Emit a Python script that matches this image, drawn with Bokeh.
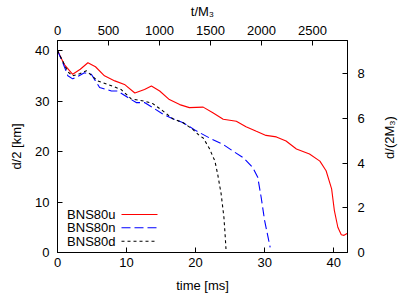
import math
from bokeh.plotting import figure
from bokeh.models import Range1d, LinearAxis, FixedTicker, Label, Arrow
from bokeh.embed import file_html
from bokeh.resources import INLINE

# ---- data ----
t_u = [0, 1.0, 2.2, 3.3, 4.4, 5.5, 6.8, 8.3, 9.7, 11.2, 12.6, 13.6, 14.8, 16.2, 17.7,
       19.1, 21.1, 22.5, 24.0, 25.9, 27.3, 28.8, 30.2, 31.7, 33.1, 34.6, 36.5, 38.0,
       38.9, 39.7, 40.1, 40.6, 41.1, 41.5, 42.0]
d_u = [40, 37.2, 35.3, 36.3, 37.6, 36.8, 35.0, 34.0, 33.3, 31.6, 32.3, 33.0, 32.0, 30.3, 29.3,
       28.7, 28.8, 27.7, 26.4, 26.0, 24.9, 24.0, 23.2, 22.9, 22.1, 20.5, 19.5, 18.1,
       16.2, 12.6, 8.3, 5.0, 3.5, 3.4, 3.8]

t_n = [0, 0.8, 1.5, 2.2, 3.0, 3.9, 4.9, 6.1, 7.8, 8.7, 10.2, 11.4, 12.6, 13.8, 15.3,
       16.7, 18.2, 20.1, 22.0, 24.0, 25.4, 26.9, 28.3, 29.0, 29.5, 30.0, 30.5, 30.8]
d_n = [40, 37.5, 35.0, 34.4, 34.9, 35.6, 35.3, 32.7, 32.0, 32.0, 30.7, 29.7, 29.7, 28.7, 27.4,
       26.5, 25.7, 24.1, 22.7, 21.4, 20.1, 18.8, 16.8, 14.9, 10.9, 6.3, 3.0, 1.0]

t_d = [0, 0.8, 1.5, 2.2, 3.2, 4.2, 5.8, 7.3, 9.2, 10.7, 12.6, 13.8, 15.3, 16.7, 18.2,
       19.6, 20.6, 21.1, 22.0, 22.8, 23.2, 23.7, 24.1, 24.3, 24.4]
d_d = [40, 37.8, 35.8, 35.0, 35.4, 36.0, 34.0, 33.3, 32.3, 30.4, 30.0, 29.5, 28.0, 26.5, 25.7,
       24.4, 23.1, 22.7, 20.6, 18.1, 15.5, 11.6, 7.0, 3.0, 0.7]

labels = ["BNS80u", "BNS80n", "BNS80d"]
colors = ["#ff0000", "#0000ff", "#000000"]
dashes = ["solid", "9 4", "3 3"]

bottom_ticks = [0, 10, 20, 30, 40]
left_ticks = [0, 10, 20, 30, 40]
top_ticks = [0, 500, 1000, 1500, 2000, 2500]
right_ticks = [0, 2, 4, 6, 8]

x_title = "time [ms]"
y_title = "d/2 [km]"
x2_title = "t/M\u2083"
y2_title = "d/(2M\u2083)"

T_MAX = 42.0
D_MAX = 42.0
MS_TO_M3 = 67.68   # 1 ms in units of M3 (3 Msun)
KM_PER_M3 = 4.43   # M3 in km

FONT = "Liberation Sans"
FS = "13px"

p = figure(width=415, height=295, output_backend="svg", toolbar_location=None,
           x_range=Range1d(0, T_MAX), y_range=Range1d(0, D_MAX),
           min_border_left=57, min_border_right=68, min_border_top=40, min_border_bottom=43)
p.extra_x_ranges = {"top": Range1d(0, T_MAX * MS_TO_M3)}
p.extra_y_ranges = {"right": Range1d(0, D_MAX / KM_PER_M3)}
p.add_layout(LinearAxis(x_range_name="top", axis_label=x2_title), "above")
p.add_layout(LinearAxis(y_range_name="right"), "right")

p.xgrid.visible = False
p.ygrid.visible = False
p.outline_line_color = "black"
p.outline_line_width = 1
p.background_fill_color = "white"
p.border_fill_color = "white"

p.below[0].axis_label = x_title
p.left[0].axis_label = y_title

for ax in p.axis:
    ax.major_tick_in = 5
    ax.major_tick_out = 0
    ax.minor_tick_line_color = None
    ax.axis_line_color = "black"
    ax.major_tick_line_color = "black"
    ax.major_label_text_font = FONT
    ax.major_label_text_font_size = FS
    ax.major_label_text_color = "black"
    ax.axis_label_text_font = FONT
    ax.axis_label_text_font_size = FS
    ax.axis_label_text_font_style = "normal"
    ax.axis_label_text_color = "black"

bx = p.below[0]
bx.ticker = FixedTicker(ticks=bottom_ticks)
bx.major_label_standoff = 5
bx.axis_label_standoff = 8
ly = p.left[0]
ly.ticker = FixedTicker(ticks=left_ticks)
ly.major_label_standoff = 8
ly.axis_label_standoff = 8
tx = p.above[0]
tx.ticker = FixedTicker(ticks=top_ticks)
tx.major_label_standoff = 6
tx.axis_label_standoff = 4
ry = p.right[0]
ry.ticker = FixedTicker(ticks=right_ticks)
ry.major_label_standoff = 10

series = [(t_u, d_u), (t_n, d_n), (t_d, d_d)]
for (tt, dd), c, dsh in zip(series, colors, dashes):
    p.line(tt, dd, line_color=c, line_width=1.1, line_dash=dsh)

# right axis title reading bottom-to-top (as in the reference), placed in the right side panel
p.add_layout(Label(x=22, y=115, x_units="screen", y_units="screen", text=y2_title,
                   angle=90, angle_units="deg", text_align="center", text_baseline="middle",
                   text_font=FONT, text_font_size=FS, text_color="black"), "right")

# manual legend (gnuplot style: text then sample), screen units relative to frame
row_y = [38, 24.7, 11.3]
for lab, c, dsh, yy in zip(labels, colors, dashes, row_y):
    p.add_layout(Label(x=58, y=yy, x_units="screen", y_units="screen", text=lab,
                       text_align="right", text_baseline="middle",
                       text_font=FONT, text_font_size=FS, text_color="black"))
    p.add_layout(Arrow(end=None, x_start=64, y_start=yy, x_end=100, y_end=yy,
                       start_units="screen", end_units="screen",
                       line_color=c, line_dash=dsh, line_width=1.1))

open("out.html", "w").write(file_html(p, INLINE))
